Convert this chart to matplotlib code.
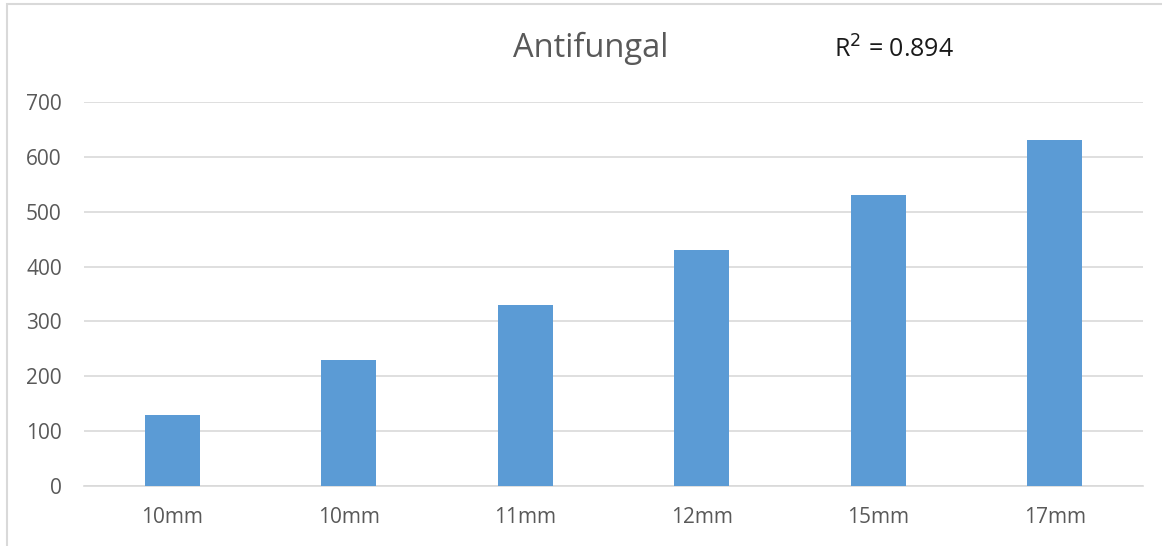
import matplotlib.pyplot as plt
from matplotlib.patches import Rectangle

sizes = ['10mm', '10mm', '11mm', '12mm', '15mm', '17mm']
activity = [130, 230, 330, 430, 530, 630]
r_squared = 0.894

plt.rcParams['font.family'] = ['Open Sans', 'DejaVu Sans']

fig = plt.figure(figsize=(11.62, 5.46), dpi=100)
ax = fig.add_axes([0.0723, 0.1099, 0.9113, 0.7033])

x = range(len(sizes))
ax.bar(x, activity, width=0.31, color='#5B9BD5', zorder=3)

ax.set_xlim(-0.5, len(sizes) - 0.5)
ax.set_ylim(0, 700)
ax.set_yticks(range(0, 701, 100))
ax.set_xticks(list(x))
ax.set_xticklabels(sizes)
ax.grid(axis='y', color='#d9d9d9', linewidth=1.2, zorder=0)
for side in ['top', 'right', 'left']:
    ax.spines[side].set_visible(False)
ax.spines['bottom'].set_color('#d9d9d9')
ax.spines['bottom'].set_linewidth(1.2)
ax.tick_params(axis='both', length=0, labelsize=15, colors='#595959')
ax.tick_params(axis='y', pad=16)
ax.tick_params(axis='x', pad=15)

fig.text(0.508, 0.912, 'Antifungal', ha='center', va='center',
         fontsize=23.5, color='#595959')
fig.text(0.718, 0.908, f'R$^2$ = {r_squared}', ha='left', va='center',
         fontsize=18, color='#1a1a1a')

# chart frame
fig.patches.append(Rectangle((7 / 1162, -0.05), 1.2, 1 - 4 / 546 + 0.05,
                             transform=fig.transFigure, fill=False,
                             edgecolor='#d9d9d9', linewidth=1.5))

fig.savefig('out.png', dpi=100)
